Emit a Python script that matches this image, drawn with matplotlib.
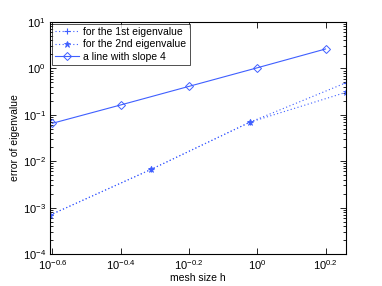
import numpy as np
import matplotlib.pyplot as plt
from matplotlib.ticker import FixedLocator, LogLocator, NullFormatter

plt.rcParams['font.family'] = ['Liberation Sans', 'DejaVu Sans']
plt.rcParams['mathtext.fontset'] = 'custom'
plt.rcParams['mathtext.rm'] = 'Liberation Sans'
plt.rcParams['mathtext.it'] = 'Liberation Sans'

# data
h_eig = [10**-0.607, 10**-0.31, 10**-0.022, 10**0.26]
err_1st = [6.9e-4, 6.7e-3, 0.069, 0.49]
err_2nd = [6.9e-4, 6.7e-3, 0.069, 0.305]
h_ref = [10**-0.6, 10**-0.4, 10**-0.2, 10**0, 10**0.2]
err_ref = [0.0656, 0.163, 0.41, 1.03, 2.62]

xtick_exp = ['-0.6', '-0.4', '-0.2', '0', '0.2']
ytick_exp = ['1', '0', '-1', '-2', '-3', '-4']

col = '#3f5fff'
dots = (0, (1, 2.2))

fig = plt.figure(figsize=(3.82, 2.86), dpi=100)
ax = fig.add_axes([50/382, 1 - 254/286, 296/382, 232/286])

ax.loglog(h_eig, err_1st, linestyle=dots, marker='+', color=col, lw=0.8,
          ms=5, mew=0.8, label='for the 1st eigenvalue')
ax.loglog(h_eig, err_2nd, linestyle=dots, marker='*', color=col, lw=0.8,
          ms=4.5, mew=0.6, label='for the 2nd eigenvalue')
ax.loglog(h_ref, err_ref, '-', marker='D', color=col, lw=0.8, ms=4, mew=0.7,
          mfc='none', label='a line with slope 4')

ax.set_xlim(h_eig[0], h_eig[-1])
ax.set_ylim(1e-4, 1e1)

xt = [10**float(e) for e in xtick_exp]
ax.xaxis.set_major_locator(FixedLocator(xt))
ax.set_xticklabels([r'$10^{%s}$' % e for e in xtick_exp])
ax.xaxis.set_minor_formatter(NullFormatter())
ax.xaxis.set_minor_locator(FixedLocator([]))

yt = [10**float(e) for e in ytick_exp]
ax.yaxis.set_major_locator(FixedLocator(yt))
ax.set_yticklabels([r'$10^{%s}$' % e for e in ytick_exp])
ax.yaxis.set_minor_locator(LogLocator(base=10, subs=np.arange(2, 10)))
ax.yaxis.set_minor_formatter(NullFormatter())

ax.tick_params(which='both', direction='in', top=True, right=True,
               labelsize=8, width=0.6)
ax.tick_params(which='major', length=4, pad=3)
ax.tick_params(which='minor', length=2)
for s in ax.spines.values():
    s.set_linewidth(0.8)

ax.set_xlabel('mesh size h', fontsize=7.5, labelpad=1)
ax.set_ylabel('error of eigenvalue', fontsize=7.5, labelpad=2)

leg = ax.legend(loc='upper left', fontsize=7.5, frameon=True, fancybox=False,
                borderaxespad=0.15, handlelength=2.3, labelspacing=0.25,
                borderpad=0.3, handletextpad=0.45)
leg.get_frame().set_edgecolor('black')
leg.get_frame().set_linewidth(0.6)

fig.savefig('out.png', dpi=100)
